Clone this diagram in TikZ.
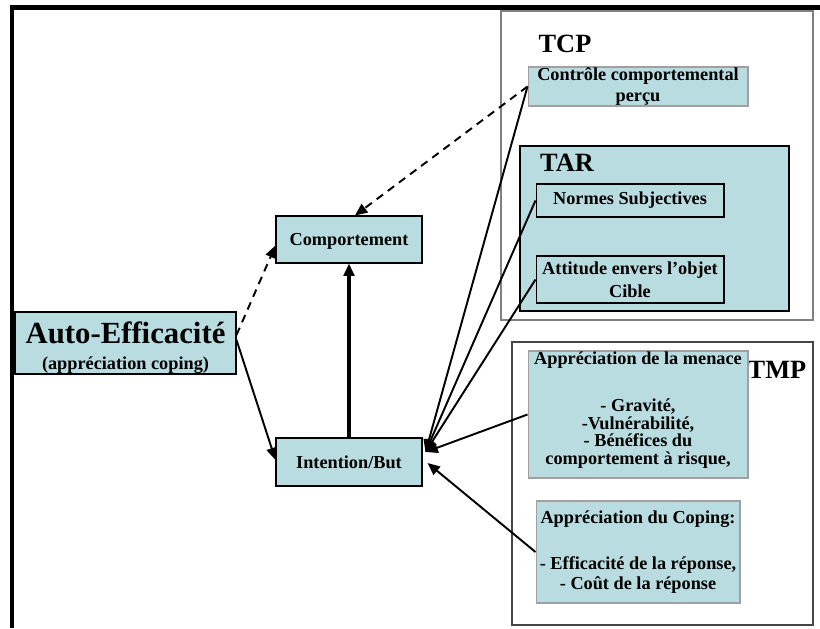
\documentclass[tikz,border=0pt]{standalone}
\usepackage{fontspec}
\setmainfont{Liberation Serif}
\usetikzlibrary{arrows.meta,calc}
\definecolor{boxfill}{RGB}{184,220,224}
\definecolor{boxgrey}{RGB}{160,160,160}
\definecolor{tcpgrey}{RGB}{128,128,128}
\definecolor{tmpgrey}{RGB}{70,70,70}

\begin{document}
\begin{tikzpicture}[x=0.02cm,y=-0.02cm]
            \tikzstyle{every node}+=[inner sep=0pt]
            \tikzstyle{box}=[draw=black, fill=boxfill, line width=0.6pt, align=center, font=\bfseries\fontsize{10.4}{11.5}\selectfont]
            \tikzstyle{greybox}=[box, draw=boxgrey]
            \tikzstyle{theory}=[font=\bfseries\fontsize{15}{15}\selectfont]
            \tikzstyle{link}=[black, line width=1.1pt, -{Triangle[length=7pt,width=6pt]}]
            \tikzstyle{hint}=[link, dash pattern=on 4.5pt off 3.4pt]
            \useasboundingbox (0,0) rectangle (820,628);
            \draw [black, line width=2.3pt] (12,628) -- (12,7.5) -- (820,7.5);
            \draw [tcpgrey, line width=0.8pt] (501,11) rectangle (813,320);
            \draw [tmpgrey, line width=0.8pt] (512,342) rectangle (813,625);
            \draw [black, fill=boxfill, line width=0.6pt] (520,146) rectangle (789,311);
            \node [theory] (tcp) at (565,44) {TCP};
            \node [theory] (tar) at (567,163) {TAR};
            \node [theory] (tmp) at (777,370) {TMP};
            \node [box, minimum width=4.42cm, minimum height=1.24cm, font=\bfseries\fontsize{10.4}{14.7}\selectfont] (auto) at (125.5,343)
                {{\fontsize{17.5}{14.7}\selectfont\rule{0pt}{18pt}Auto-Efficacité}\\(appréciation coping)};
            \node [box, minimum width=2.92cm, minimum height=0.94cm] (comportement) at (349,239.5) {\rule{0pt}{9pt}Comportement};
            \node [box, minimum width=2.92cm, minimum height=0.96cm] (intention) at (349,462) {Intention/But};
            \node [greybox, minimum width=4.4cm, minimum height=0.78cm] (controle) at (638,86.5)
                {Contrôle comportemental\\perçu};
            \node [box, minimum width=3.76cm, minimum height=0.66cm] (normes) at (630,200.5) {Normes Subjectives};
            \node [box, minimum width=3.76cm, minimum height=0.94cm, font=\bfseries\fontsize{10.4}{13}\selectfont] (attitude) at (630,279.5)
                {Attitude envers l’objet\\Cible};
            \node [greybox, minimum width=4.4cm, minimum height=2.54cm, font=\bfseries\fontsize{10.4}{10}\selectfont] (menace) at (638,414.5)
                {Appréciation de la menace\\[16.6pt]- Gravité,\\-Vulnérabilité,\\- Bénéfices du\\comportement à risque,\rule[-7pt]{0pt}{7pt}};
            \node [greybox, minimum width=4.08cm, minimum height=2.04cm, font=\bfseries\fontsize{10.4}{11.3}\selectfont] (coping) at (638,552)
                {Appréciation du Coping:\\[15.3pt]- Efficacité de la réponse,\\- Coût de la réponse};
            \draw [hint] ($(auto.east)+(0,-8)$) -- ($(comportement.west)+(0,6)$);
            \draw [link] ($(auto.east)+(0,-3)$) -- ($(intention.west)+(0,-2)$);
            \draw [link, line width=2pt] (intention.north) -- (comportement.south);
            \draw [hint] (controle.west) -- ($(comportement.north)+(6,0)$);
            \draw [link] (controle.west) -- ($(intention.east)+(3,-10)$);
            \draw [link] (normes.west) -- ($(intention.east)+(3,-10)$);
            \draw [link] (attitude.west) -- ($(intention.east)+(3,-10)$);
            \draw [link] (menace.west) -- ($(intention.east)+(3,-10)$);
            \draw [link] (coping.west) -- ($(intention.east)+(5,1)$);
            \end{tikzpicture}
\end{document}
